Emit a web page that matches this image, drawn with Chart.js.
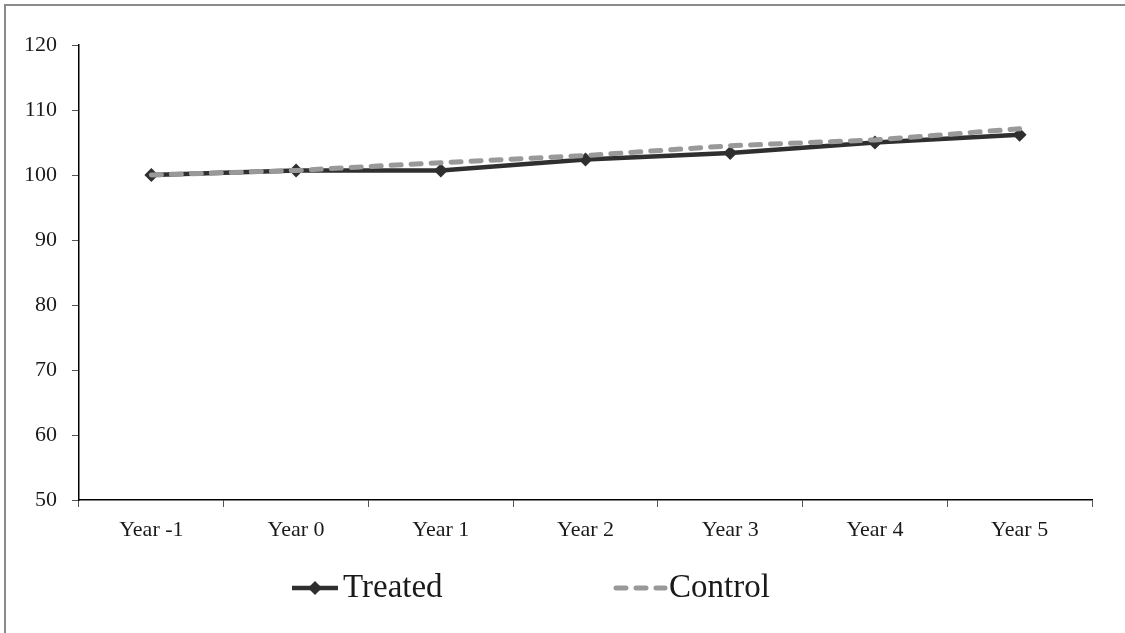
<!DOCTYPE html>
<html>
<head>
<meta charset="utf-8">
<script src="https://cdn.jsdelivr.net/npm/chart.js@4.4.1/dist/chart.umd.min.js"></script>
<style>
  html, body { margin: 0; padding: 0; background: #fff; overflow: hidden; }
  #wrap { position: relative; width: 1125px; height: 633px; }
  #frame { position: absolute; left: 4px; top: 4px; width: 1200px; height: 700px;
           border-left: 2px solid #8a8a8a; border-top: 2px solid #8a8a8a; }
  #chart { position: absolute; left: 0; top: 0; }
</style>
</head>
<body>
<div id="wrap">
  <div id="frame"></div>
  <canvas id="chart" width="1125" height="633"></canvas>
</div>
<script>
// data
const years = ['Year -1', 'Year 0', 'Year 1', 'Year 2', 'Year 3', 'Year 4', 'Year 5'];
const treated = [100, 100.7, 100.7, 102.4, 103.4, 105.0, 106.2];
const control = [100, 100.7, 101.9, 103.0, 104.5, 105.4, 107.1];
const y_ticks = [50, 60, 70, 80, 90, 100, 110, 120];

const serif = '"Liberation Serif", "Times New Roman", serif';
const text_col = '#1a1a1a';

// legend drawn by hand so the two entries can sit far apart
const legend_plugin = {
	id: 'wideLegend',
	afterDraw(chart) {
		const ctx = chart.ctx;
		const y = 588;
		const items = [
			{ ds: chart.data.datasets[1], x0: 292, x1: 338, tx: 343, marker: true },
			{ ds: chart.data.datasets[0], x0: 616, x1: 665, tx: 669, marker: false }
		];
		ctx.save();
		items.forEach(it => {
			ctx.beginPath();
			ctx.strokeStyle = it.ds.borderColor;
			ctx.lineWidth = it.ds.borderWidth;
			ctx.lineCap = it.ds.borderCapStyle || 'butt';
			ctx.setLineDash(it.ds.borderDash || []);
			ctx.moveTo(it.x0, y);
			ctx.lineTo(it.x1, y);
			ctx.stroke();
			ctx.setLineDash([]);
			if (it.marker) {
				const r = it.ds.pointRadius;
				const cx = (it.x0 + it.x1) / 2;
				ctx.beginPath();
				ctx.fillStyle = it.ds.pointBackgroundColor;
				ctx.moveTo(cx, y - r);
				ctx.lineTo(cx + r, y);
				ctx.lineTo(cx, y + r);
				ctx.lineTo(cx - r, y);
				ctx.closePath();
				ctx.fill();
			}
			ctx.fillStyle = text_col;
			ctx.font = '33px ' + serif;
			ctx.textBaseline = 'middle';
			ctx.textAlign = 'left';
			ctx.fillText(it.ds.label, it.tx, y);
		});
		ctx.restore();
	}
};

const ctx = document.getElementById('chart').getContext('2d');
const chart = new Chart(ctx, {
	type: 'line',
	data: {
		labels: years,
		datasets: [
			{
				label: 'Control',
				data: control,
				borderColor: '#999999',
				borderWidth: 5,
				borderDash: [10, 10],
				borderCapStyle: 'round',
				pointRadius: 0,
				tension: 0,
				order: 0
			},
			{
				label: 'Treated',
				data: treated,
				borderColor: '#2f2f2f',
				borderWidth: 4.5,
				pointStyle: 'rectRot',
				pointRadius: 7,
				pointBackgroundColor: '#2f2f2f',
				pointBorderColor: '#2f2f2f',
				pointBorderWidth: 0,
				tension: 0,
				order: 1
			}
		]
	},
	options: {
		responsive: false,
		animation: false,
		devicePixelRatio: 1,
		layout: {
			padding: { left: 0, right: 33, top: 45, bottom: 93 }
		},
		scales: {
			x: {
				offset: true,
				grid: {
					offset: true,
					drawOnChartArea: false,
					drawTicks: true,
					tickLength: 7,
					color: '#555',
					lineWidth: 1
				},
				border: { color: '#000', width: 1.5 },
				ticks: {
					color: text_col,
					font: { family: serif, size: 22 },
					padding: 10,
					maxRotation: 0
				},
				afterFit: (axis) => { axis.height = 40; }
			},
			y: {
				min: 50,
				max: 120,
				afterBuildTicks: (axis) => { axis.ticks = y_ticks.map(v => ({ value: v })); },
				grid: {
					drawOnChartArea: false,
					drawTicks: true,
					tickLength: 7,
					color: '#555',
					lineWidth: 1
				},
				border: { color: '#000', width: 1.5 },
				ticks: {
					color: text_col,
					font: { family: serif, size: 22 },
					padding: 15
				},
				afterFit: (axis) => { axis.width = 79; }
			}
		},
		plugins: {
			legend: { display: false },
			tooltip: { enabled: false }
		}
	},
	plugins: [legend_plugin]
});
</script>
</body>
</html>
